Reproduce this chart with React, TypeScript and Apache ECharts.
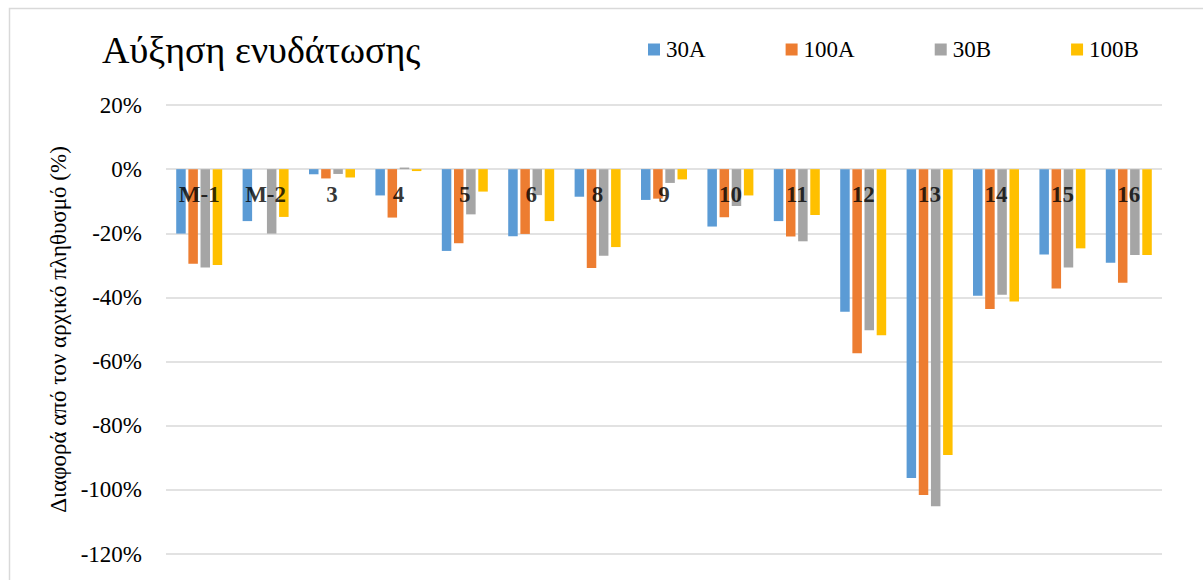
import React, { useEffect, useRef } from "react";
import * as echarts from "echarts";

const categories = ["M-1", "M-2", "3", "4", "5", "6", "8", "9", "10", "11", "12", "13", "14", "15", "16"];
const seriesNames = ["30A", "100A", "30B", "100B"];
const values30A = [-20.1, -16.2, -1.6, -8.2, -25.5, -20.9, -8.6, -9.6, -17.9, -16.2, -44.5, -96.3, -39.5, -26.6, -29.2];
const values100A = [-29.5, 0, -2.9, -15.1, -23.1, -20.2, -30.8, -9.2, -15.0, -21.0, -57.4, -101.6, -43.6, -37.2, -35.4];
const values30B = [-30.7, -20.1, -1.5, 0.5, -14.1, -8.1, -27.0, -4.3, -11.5, -22.5, -50.2, -105.1, -39.2, -30.7, -26.8];
const values100B = [-29.9, -14.9, -2.6, -0.6, -7.0, -16.2, -24.3, -3.2, -8.2, -14.3, -51.8, -89.1, -41.3, -24.7, -26.8];
const labelBaseline = categories.map(() => 0);
const colors = ["#5B9BD5", "#ED7D31", "#A5A5A5", "#FFC000"];
const titleText = "Αύξηση ενυδάτωσης";
const yAxisName = "Διαφορά από τον αρχικό πληθυσμό (%)";

const FONT = "Liberation Serif";

export default function App() {
  const ref = useRef<HTMLDivElement>(null);
  useEffect(() => {
    if (!ref.current) return;
    const chart = echarts.init(ref.current, undefined, { renderer: "svg" });
    const allValues = [values30A, values100A, values30B, values100B];
    chart.setOption({
      animation: false,
      backgroundColor: "#ffffff",
      textStyle: { fontFamily: FONT, color: "#000" },
      graphic: [
        {
          type: "rect",
          shape: { x: 9.5, y: 8.5, width: 1300, height: 700 },
          style: { fill: "none", stroke: "#d9d9d9", lineWidth: 1.5 },
          silent: true,
          z: -10,
        },
      ],
      title: {
        text: titleText,
        left: 102,
        top: 31,
        padding: 0,
        textStyle: { fontFamily: FONT, fontSize: 38, fontWeight: "normal", color: "#000" },
      },
      legend: {
        left: 648,
        top: 38,
        padding: 0,
        itemGap: 80,
        itemWidth: 12,
        itemHeight: 12,
        icon: "rect",
        data: seriesNames,
        textStyle: { fontFamily: FONT, fontSize: 23, color: "#000", padding: [0, 0, 0, 1] },
      },
      grid: { left: 166, right: 41, top: 105, height: 449, containLabel: false, outerBoundsMode: "none" },
      xAxis: {
        type: "category",
        data: categories,
        axisLine: { show: false },
        axisTick: { show: false },
        axisLabel: { show: false },
      },
      yAxis: {
        type: "value",
        min: -120,
        max: 20,
        interval: 20,
        name: yAxisName,
        nameLocation: "middle",
        nameGap: 88,
        nameRotate: 90,
        nameTextStyle: { fontFamily: FONT, fontSize: 23, color: "#000" },
        axisLine: { show: false },
        axisTick: { show: false },
        axisLabel: {
          margin: 24,
          fontFamily: FONT,
          fontSize: 23,
          color: "#000",
          formatter: "{value}%",
        },
        splitLine: { lineStyle: { color: "#d9d9d9", width: 1.5 } },
      },
      series: [
        ...seriesNames.map((name, i) => ({
          name,
          type: "bar",
          data: allValues[i],
          barWidth: 9.5,
          barGap: "28%",
          itemStyle: { color: colors[i] },
          z: 2,
        })),
        {
          name: "labels",
          type: "scatter",
          data: labelBaseline,
          symbolSize: 0,
          silent: true,
          z: 10,
          label: {
            show: true,
            position: "bottom",
            distance: 14,
            formatter: "{b}",
            fontFamily: FONT,
            fontSize: 23,
            fontWeight: "bold",
            color: "#000",
          },
        },
      ],
    });
    return () => chart.dispose();
  }, []);
  return (
    <div
      ref={ref}
      style={{ position: "absolute", left: 0, top: 0, width: 1203, height: 580 }}
    />
  );
}
